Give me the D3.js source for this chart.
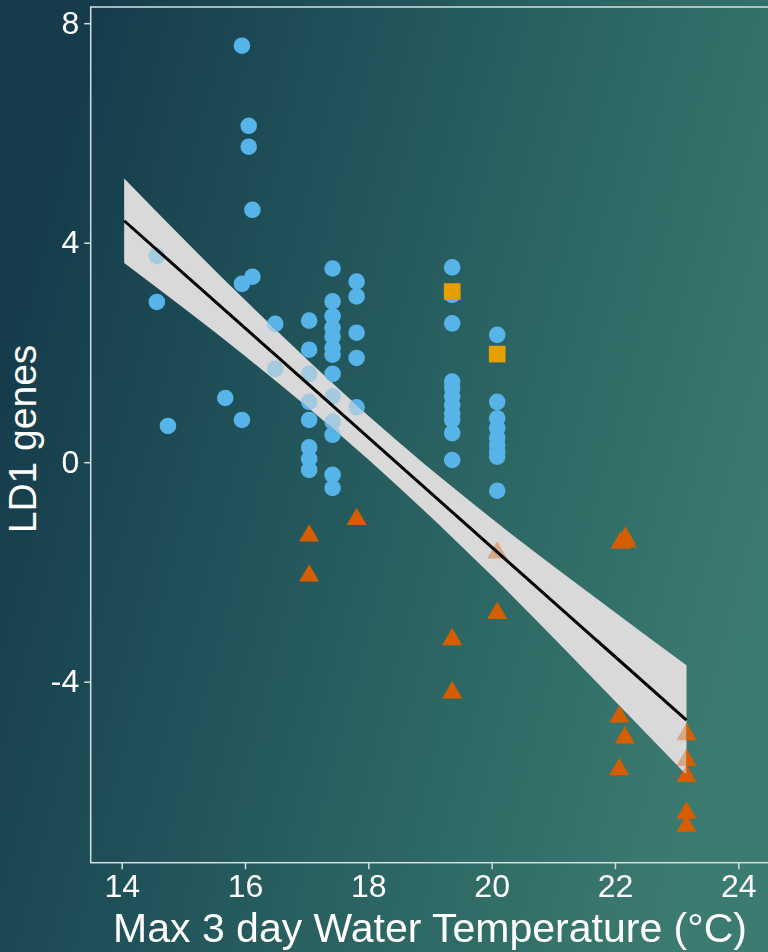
<!DOCTYPE html>
<html>
<head>
<meta charset="utf-8">
<script src="https://cdn.jsdelivr.net/npm/d3@7"></script>
<style>
  html, body { margin: 0; padding: 0; background: #1f4b55; }
  svg { display: block; }
</style>
</head>
<body>
<svg id="chart" width="768" height="952"></svg>
<script>
// Max 3-day water temperature (°C) and LD1 scores, one array pair per marker group
const blueTemp = [
  14.57, 14.57, 14.75, 15.68, 15.95, 15.95, 15.95, 16.06, 16.06, 16.12, 16.12, 16.49, 16.49,
  17.04, 17.04, 17.04, 17.04, 17.04, 17.04, 17.04, 17.04,
  17.42, 17.42, 17.42, 17.42, 17.42, 17.42, 17.42, 17.42, 17.42, 17.42, 17.42, 17.42, 17.42,
  17.81, 17.81, 17.81, 17.81, 17.81,
  19.36, 19.36, 19.36, 19.36, 19.36, 19.36, 19.36, 19.36, 19.36, 19.36, 19.36,
  20.09, 20.09, 20.09, 20.09, 20.09, 20.09, 20.09, 20.09, 20.09
];
const blueLD1 = [
  3.76, 2.92, 0.66, 1.17, 7.59, 3.25, 0.77, 6.13, 5.75, 4.60, 3.38, 2.52, 1.70,
  2.58, 2.05, 1.61, 1.10, 0.77, 0.27, 0.06, -0.14,
  3.53, 2.93, 2.66, 2.45, 2.29, 2.08, 1.96, 1.61, 1.20, 0.74, 0.50, -0.23, -0.47,
  3.29, 3.02, 2.36, 1.90, 1.00,
  3.55, 3.05, 2.53, 1.47, 1.35, 1.20, 1.04, 0.89, 0.77, 0.53, 0.04,
  2.32, 1.10, 0.80, 0.62, 0.45, 0.32, 0.19, 0.10, -0.52
];
const orangeTemp = [19.36, 20.09];
const orangeLD1 = [3.11, 1.97];
const redTemp = [
  17.04, 17.04, 17.81, 19.36, 19.36, 20.09, 20.09,
  22.09, 22.17, 22.19, 22.07, 22.07, 22.16,
  23.16, 23.16, 23.16, 23.16, 23.16
];
const redLD1 = [
  -1.34, -2.07, -1.04, -3.23, -4.20, -1.65, -2.75,
  -1.47, -1.38, -1.45, -4.64, -5.60, -5.02,
  -4.96, -5.43, -5.72, -6.39, -6.63
];

// Fitted linear trend (end points) and half-width of its 95% confidence band
const fitTemp = [14.04, 23.16];
const fitLD1 = [4.40, -4.70];
const bandTemp = [14.04, 16, 18, 20, 22, 23.16];
const bandHalf = [0.77, 0.51, 0.40, 0.52, 0.81, 1.00];

// Axis ticks
const xTicks = [14, 16, 18, 20, 22, 24];
const yTicks = [-4, 0, 4, 8];

const svg = d3.select("#chart");
const W = 768, H = 952;
const panel = { left: 90.7, top: 7, bottom: 862.7, right: 790 };

const x = d3.scaleLinear().domain([14, 24]).range([121.7, 738.3]);
const y = d3.scaleLinear().domain([-4, 8]).range([681.7, 23.2]);

// Background wash
const defs = svg.append("defs");
const grad = defs.append("linearGradient")
  .attr("id", "bg").attr("gradientUnits", "userSpaceOnUse")
  .attr("x1", 0).attr("y1", 380).attr("x2", W).attr("y2", 580);
[[0, "#163c4b"], [0.3, "#1f5058"], [0.65, "#2d6764"], [1, "#3c7b71"]]
  .forEach(([o, c]) => grad.append("stop").attr("offset", o).attr("stop-color", c));
svg.append("rect").attr("width", W).attr("height", H).attr("fill", "url(#bg)");

const clipId = "panel-clip";
defs.append("clipPath").attr("id", clipId).append("rect")
  .attr("x", panel.left).attr("y", panel.top)
  .attr("width", panel.right - panel.left).attr("height", panel.bottom - panel.top);

const plot = svg.append("g").attr("clip-path", `url(#${clipId})`);

// Trend line and its confidence band
const fitAt = d3.scaleLinear().domain(fitTemp).range(fitLD1);
const band = bandTemp.map((t, i) => ({ t, lo: fitAt(t) - bandHalf[i], hi: fitAt(t) + bandHalf[i] }));
const bandPath = d3.area().curve(d3.curveMonotoneX)
  .x(d => x(d.t)).y0(d => y(d.lo)).y1(d => y(d.hi))(band);

plot.append("path").attr("d", bandPath).attr("fill", "#d9d9d9");

// Points show faintly through the band
const mask = defs.append("mask").attr("id", "band-veil")
  .attr("maskUnits", "userSpaceOnUse").attr("x", 0).attr("y", 0).attr("width", W).attr("height", H);
mask.append("rect").attr("width", W).attr("height", H).attr("fill", "#fff");
mask.append("path").attr("d", bandPath).attr("fill", "#000").attr("fill-opacity", 0.6);

const sym = (type, size) => d3.symbol().type(type).size(size)();
const groups = [
  { xs: blueTemp, ys: blueLD1, path: sym(d3.symbolCircle, 216), fill: "#56B4E9" },
  { xs: orangeTemp, ys: orangeLD1, path: sym(d3.symbolSquare, 278), fill: "#E69F00" },
  { xs: redTemp, ys: redLD1, path: sym(d3.symbolTriangle, 175), fill: "#D55E00" }
];
const points = plot.append("g").attr("mask", "url(#band-veil)");
groups.forEach(g => {
  points.append("g").selectAll("path")
    .data(g.xs.map((t, i) => [t, g.ys[i]]))
    .join("path")
    .attr("d", g.path)
    .attr("transform", d => `translate(${x(d[0])},${y(d[1])})`)
    .attr("fill", g.fill);
});

plot.append("path").datum(fitTemp)
  .attr("d", d3.line().x(d => x(d)).y(d => y(fitAt(d))))
  .attr("fill", "none").attr("stroke", "#000").attr("stroke-width", 3);

// Panel border
svg.append("rect")
  .attr("x", panel.left).attr("y", panel.top)
  .attr("width", panel.right - panel.left).attr("height", panel.bottom - panel.top)
  .attr("fill", "none").attr("stroke", "#d6dede").attr("stroke-width", 1.5);

// Axes
const font = "'Liberation Sans', Arial, sans-serif";
const styleAxis = g => {
  g.select(".domain").remove();
  g.selectAll(".tick line").attr("stroke", "#d6dede").attr("stroke-width", 1.5);
  g.selectAll(".tick text").attr("fill", "#ffffff")
    .style("font-family", font).style("font-size", "32px");
};
svg.append("g").attr("transform", `translate(${panel.left},0)`)
  .call(d3.axisLeft(y).tickValues(yTicks).tickSize(6.5).tickPadding(5).tickFormat(d => String(d)))
  .call(styleAxis);
svg.append("g").attr("transform", `translate(0,${panel.bottom})`)
  .call(d3.axisBottom(x).tickValues(xTicks).tickSize(6.5).tickPadding(5).tickFormat(d => String(d)))
  .call(styleAxis);

// Axis titles
svg.append("text")
  .attr("x", 430).attr("y", 942).attr("text-anchor", "middle")
  .attr("fill", "#fff").style("font-family", font).style("font-size", "41px")
  .text("Max 3 day Water Temperature (°C)");
svg.append("text")
  .attr("transform", "translate(36,439) rotate(-90)").attr("text-anchor", "middle")
  .attr("fill", "#fff").style("font-family", font).style("font-size", "39px")
  .text("LD1 genes");
</script>
</body>
</html>
